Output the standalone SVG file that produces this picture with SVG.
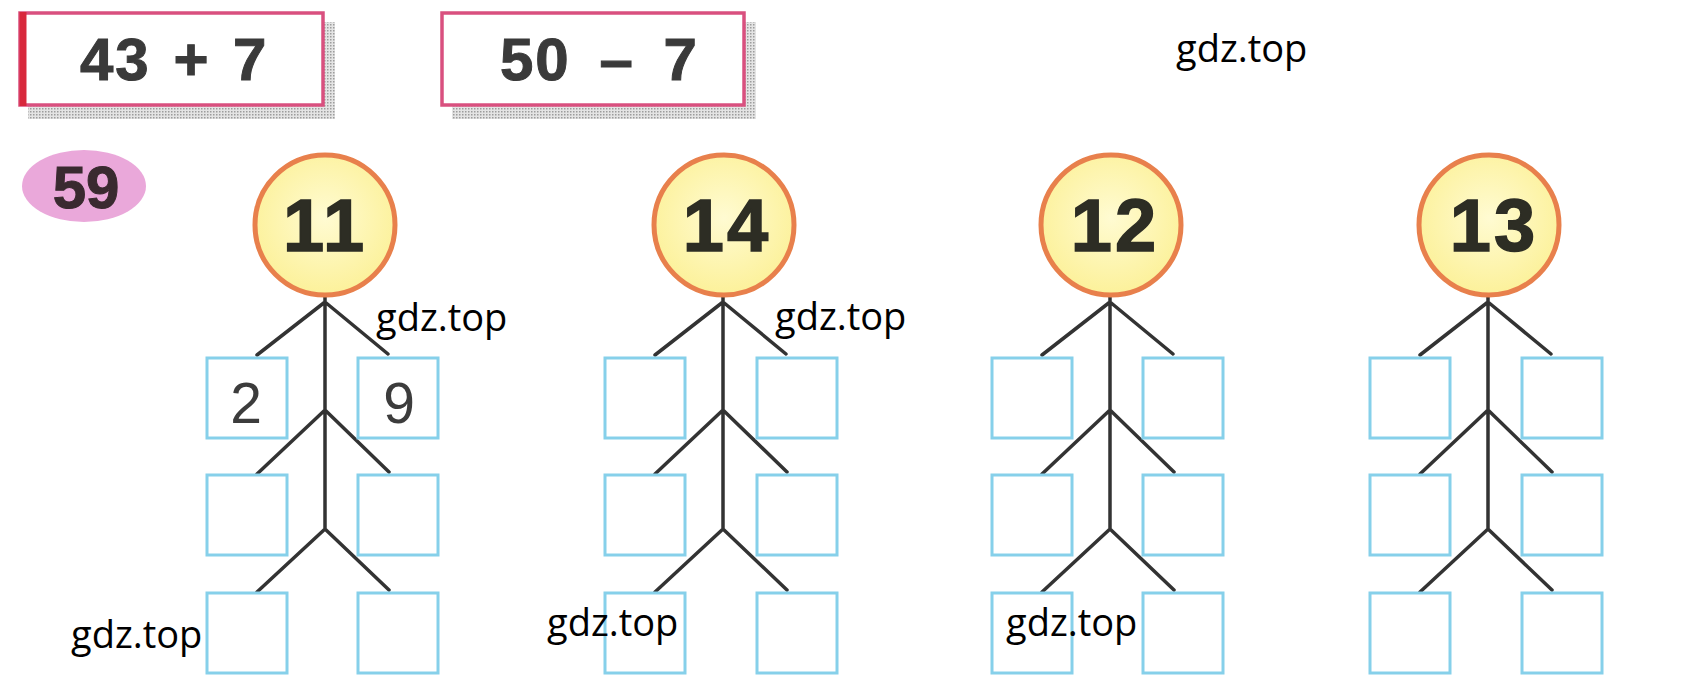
<svg xmlns="http://www.w3.org/2000/svg" width="1684" height="694" viewBox="0 0 1684 694">
<defs>
<pattern id="dots" width="3" height="3" patternUnits="userSpaceOnUse"><rect width="3" height="3" fill="#e4e4e4"/><rect width="1.5" height="1.5" fill="#9c9c9c"/></pattern>
<radialGradient id="yel" cx="0.5" cy="0.45" r="0.55"><stop offset="0" stop-color="#fffbd2"/><stop offset="1" stop-color="#fcf19a"/></radialGradient>
</defs>
<style>
.card{fill:#fff;stroke:#d9507f;stroke-width:3.5}
.shadow{fill:url(#dots)}
.expr{font-family:"Liberation Sans",Arial,sans-serif;font-weight:bold;font-size:60px;fill:#3a3a3a;stroke:#3a3a3a;stroke-width:1;letter-spacing:2px;word-spacing:4px}
.num{fill:url(#yel);stroke:#e8804c;stroke-width:5}
.numt{font-family:"Liberation Sans",Arial,sans-serif;font-weight:bold;font-size:74px;fill:#2d2d24;stroke:#2d2d24;stroke-width:1.5;text-anchor:middle;letter-spacing:3px}
.box{fill:#fff;stroke:#86d0ea;stroke-width:3}
.line{fill:none;stroke:#333;stroke-width:3.5;stroke-linecap:round;stroke-linejoin:round}
.wm{font-family:"Open Sans","DejaVu Sans",sans-serif;font-size:38px;fill:#000}
.dig{font-family:"Liberation Sans",Arial,sans-serif;font-size:57px;fill:#3c3c3c;text-anchor:middle}
</style>

<g id="expr1">
<rect class="shadow" x="28" y="22" width="307" height="97"/>
<rect class="card" x="20" y="13" width="303" height="92"/>
<line x1="23" y1="12" x2="23" y2="106" stroke="#d8283c" stroke-width="7"/>
<text class="expr" x="80" y="80">43 + 7</text>
</g>
<g id="expr2">
<rect class="shadow" x="452" y="22" width="304" height="97"/>
<rect class="card" x="442" y="13" width="302" height="92"/>
<text class="expr" x="500" y="80" style="word-spacing:10px">50 – 7</text>
</g>

<g id="task59">
<ellipse cx="84" cy="186" rx="62" ry="36" fill="#eaa8da"/>
<text x="86" y="208" text-anchor="middle" style="font-family:'Liberation Sans',Arial,sans-serif;font-weight:bold;font-size:60px;fill:#3a2a30;stroke:#3a2a30;stroke-width:1">59</text>
</g>

<g id="connectors">
<path class="line" d="M325 297V529M325 302L257 355M325 302L388 354M325 410L257 474M325 410L389 472M325 529L257 592M325 529L389 590"/>
<path class="line" d="M723 297V529M723 302L655 355M723 302L786 354M723 410L655 474M723 410L787 472M723 529L655 592M723 529L787 590"/>
<path class="line" d="M1110 297V529M1110 302L1042 355M1110 302L1173 354M1110 410L1042 474M1110 410L1174 472M1110 529L1042 592M1110 529L1174 590"/>
<path class="line" d="M1488 297V529M1488 302L1420 355M1488 302L1551 354M1488 410L1420 474M1488 410L1552 472M1488 529L1420 592M1488 529L1552 590"/>
</g>

<g id="n11"><circle class="num" cx="325" cy="225" r="70"/><text class="numt" x="325" y="251">11</text></g>
<g id="n14"><circle class="num" cx="724" cy="225" r="70"/><text class="numt" x="727" y="251">14</text></g>
<g id="n12"><circle class="num" cx="1111" cy="225" r="70"/><text class="numt" x="1115" y="251">12</text></g>
<g id="n13"><circle class="num" cx="1489" cy="225" r="70"/><text class="numt" x="1494" y="251">13</text></g>

<g id="t1-l1"><rect class="box" x="207" y="358" width="80" height="80"/><text class="dig" x="246" y="423">2</text></g>
<g id="t1-r1"><rect class="box" x="358" y="358" width="80" height="80"/><text class="dig" x="399" y="423">9</text></g>
<g id="t1-l2"><rect class="box" x="207" y="475" width="80" height="80"/></g>
<g id="t1-r2"><rect class="box" x="358" y="475" width="80" height="80"/></g>
<g id="t1-l3"><rect class="box" x="207" y="593" width="80" height="80"/></g>
<g id="t1-r3"><rect class="box" x="358" y="593" width="80" height="80"/></g>

<g id="t2-l1"><rect class="box" x="605" y="358" width="80" height="80"/></g>
<g id="t2-r1"><rect class="box" x="757" y="358" width="80" height="80"/></g>
<g id="t2-l2"><rect class="box" x="605" y="475" width="80" height="80"/></g>
<g id="t2-r2"><rect class="box" x="757" y="475" width="80" height="80"/></g>
<g id="t2-l3"><rect class="box" x="605" y="593" width="80" height="80"/></g>
<g id="t2-r3"><rect class="box" x="757" y="593" width="80" height="80"/></g>

<g id="t3-l1"><rect class="box" x="992" y="358" width="80" height="80"/></g>
<g id="t3-r1"><rect class="box" x="1143" y="358" width="80" height="80"/></g>
<g id="t3-l2"><rect class="box" x="992" y="475" width="80" height="80"/></g>
<g id="t3-r2"><rect class="box" x="1143" y="475" width="80" height="80"/></g>
<g id="t3-l3"><rect class="box" x="992" y="593" width="80" height="80"/></g>
<g id="t3-r3"><rect class="box" x="1143" y="593" width="80" height="80"/></g>

<g id="t4-l1"><rect class="box" x="1370" y="358" width="80" height="80"/></g>
<g id="t4-r1"><rect class="box" x="1522" y="358" width="80" height="80"/></g>
<g id="t4-l2"><rect class="box" x="1370" y="475" width="80" height="80"/></g>
<g id="t4-r2"><rect class="box" x="1522" y="475" width="80" height="80"/></g>
<g id="t4-l3"><rect class="box" x="1370" y="593" width="80" height="80"/></g>
<g id="t4-r3"><rect class="box" x="1522" y="593" width="80" height="80"/></g>

<g id="watermarks">
<text class="wm" x="1176" y="62">gdz.top</text>
<text class="wm" x="376" y="331">gdz.top</text>
<text class="wm" x="775" y="330">gdz.top</text>
<text class="wm" x="71" y="648">gdz.top</text>
<text class="wm" x="547" y="636">gdz.top</text>
<text class="wm" x="1006" y="636">gdz.top</text>
</g>
</svg>
